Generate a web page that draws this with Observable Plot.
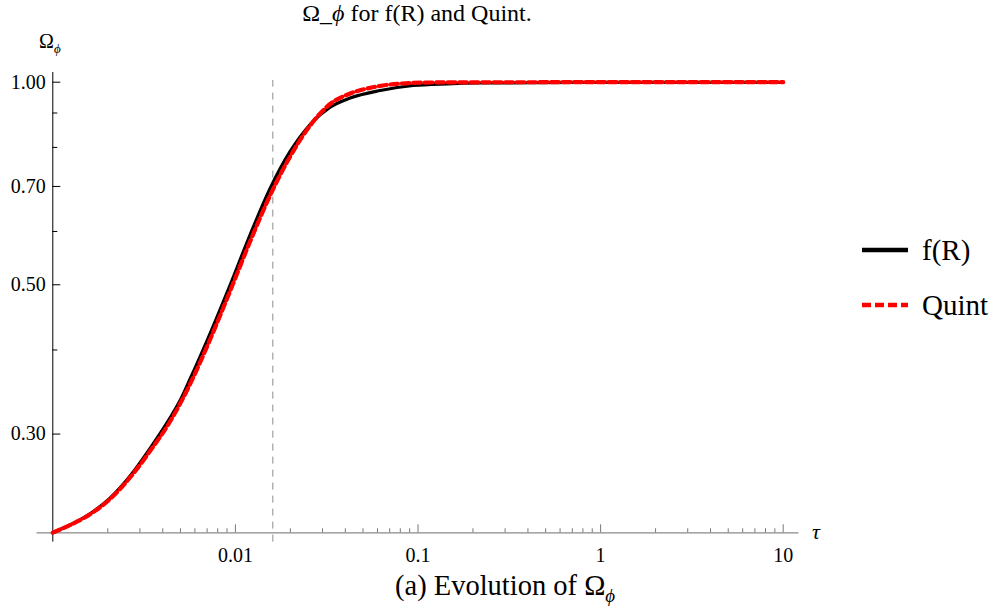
<!DOCTYPE html>
<html>
<head>
<meta charset="utf-8">
<script src="https://cdn.jsdelivr.net/npm/d3@7"></script>
<script src="https://cdn.jsdelivr.net/npm/@observablehq/plot@0.6"></script>
<style>
  html, body { margin: 0; padding: 0; background: #fff; }
  #wrap { position: relative; width: 1000px; height: 612px; font-family: "Liberation Serif", "Times New Roman", serif; color: #000; }
  #chart { position: absolute; left: 0; top: 0; }
  .abs { position: absolute; white-space: nowrap; line-height: 1; }
</style>
</head>
<body>
<div id="wrap">
  <div id="chart"></div>
  <div class="abs" id="title" style="left:0; width:834px; top:1px; text-align:center; font-size:24px;">Ω_<i>ϕ</i> for f(R) and Quint.</div>
  <div class="abs" id="ylab" style="left:39px; top:31px; font-size:20px;">Ω<sub style="font-size:13px; font-style:italic;">ϕ</sub></div>
  <div class="abs" id="xlab" style="left:812px; top:521px; font-size:22px; font-style:italic;">τ</div>
  <div class="abs" id="caption" style="left:395px; top:572px; font-size:28.5px;">(a) Evolution of Ω<sub style="font-size:19px; font-style:italic;">ϕ</sub></div>
  <div class="abs" id="legend" style="left:862px; top:230px; font-size:29px;"></div>
</div>
<script>
// ---- data ----
const seriesNames = ["f(R)", "Quint"];
const tauFR   = [0.001, 0.001242, 0.0016, 0.002058, 0.002649, 0.003409, 0.004387, 0.004977, 0.005646, 0.007266, 0.009354, 0.012036, 0.01549, 0.01994, 0.02566, 0.03303, 0.04251, 0.06208, 0.09412, 0.1445, 0.2192, 0.4673, 1, 10];
const omegaFR = [0.2141, 0.2198, 0.2284, 0.2409, 0.2598, 0.2856, 0.3171, 0.3365, 0.3622, 0.4232, 0.4995, 0.5933, 0.6951, 0.789, 0.8654, 0.918, 0.9474, 0.972, 0.9888, 0.9945, 0.9973, 0.9986, 0.9993, 0.9997];
const tauQ    = [0.001, 0.001242, 0.0016, 0.002058, 0.002649, 0.003409, 0.004387, 0.005646, 0.007266, 0.009354, 0.012036, 0.01549, 0.01994, 0.02566, 0.03303, 0.04251, 0.05681, 0.07691, 0.1166, 0.2192, 1, 10];
const omegaQ  = [0.2141, 0.2197, 0.2280, 0.2402, 0.2586, 0.2831, 0.3132, 0.3560, 0.4146, 0.4893, 0.5798, 0.6788, 0.7754, 0.8623, 0.9281, 0.9620, 0.9830, 0.9945, 0.9990, 0.9997, 1.0, 1.0];
const xMajorTicks = [0.01, 0.1, 1, 10];
const xMajorLabels = ["0.01", "0.1", "1", "10"];
const xMinorTicks = [0.002,0.003,0.004,0.005,0.006,0.007,0.008,0.009,0.02,0.03,0.04,0.05,0.06,0.07,0.08,0.09,0.2,0.3,0.4,0.5,0.6,0.7,0.8,0.9,2,3,4,5,6,7,8,9];
const yMajorTicks = [0.3, 0.5, 0.7, 1.0];
const yMajorLabels = ["0.30", "0.50", "0.70", "1.00"];
const yMinorTicks = [0.4, 0.6, 0.8, 0.9];
const xDomain = [0.001, 10];
const yDomain = [0.214, 1.0];
const markerTau = [0.01603];            // dashed vertical reference line
const xAxisExtent = [0.00082, 12.2];    // drawn x axis line extent
const yAxisExtent = [0.2073, 1.0338];   // drawn y axis line extent
const markerExtent = [0.2073, 1.006];

const rows = [
  ...tauFR.map((t, i) => ({tau: t, omega: omegaFR[i], series: seriesNames[0]})),
  ...tauQ.map((t, i) => ({tau: t, omega: omegaQ[i], series: seriesNames[1]}))
];
const fr = rows.filter(d => d.series === seriesNames[0]);
const qu = rows.filter(d => d.series === seriesNames[1]);

const chart = Plot.plot({
  width: 1000,
  height: 612,
  marginLeft: 52.3,
  marginRight: 217.3,
  marginTop: 81.7,
  marginBottom: 79.7,
  style: {fontFamily: "Liberation Serif, serif", fontSize: "20px", color: "#000", background: "transparent"},
  x: {type: "log", domain: xDomain},
  y: {type: "log", domain: yDomain},
  marks: [
    Plot.ruleX(markerTau, {y1: markerExtent[0], y2: markerExtent[1], stroke: "#8c8c8c", strokeWidth: 1, strokeDasharray: "7,6"}),
    Plot.ruleY([yDomain[0]], {x1: xAxisExtent[0], x2: xAxisExtent[1], stroke: "#8a8a8a", strokeWidth: 1.3}),
    Plot.ruleX([xDomain[0]], {y1: yAxisExtent[0], y2: yAxisExtent[1], stroke: "#000", strokeWidth: 1}),
    Plot.axisX(xMajorTicks, {tickSize: -8, tickPadding: 23, stroke: "#777", fill: "#000", tickFormat: d => xMajorLabels[xMajorTicks.indexOf(d)], label: null, fontSize: 20}),
    Plot.axisX(xMinorTicks, {tickSize: -4, tickFormat: () => "", stroke: "#777", label: null}),
    Plot.axisY(yMajorTicks, {tickSize: -8, tickPadding: 15, stroke: "#000", fill: "#000", tickFormat: d => yMajorLabels[yMajorTicks.indexOf(d)], label: null, fontSize: 20}),
    Plot.axisY(yMinorTicks, {tickSize: -5, tickFormat: () => "", stroke: "#000", label: null}),
    Plot.line(fr, {x: "tau", y: "omega", stroke: "#000", strokeWidth: 3.2, curve: "monotone-x"}),
    Plot.line(qu, {x: "tau", y: "omega", stroke: "#ff0000", strokeWidth: 4.2, strokeDasharray: "7.5,4", curve: "monotone-x"})
  ]
});
document.getElementById("chart").appendChild(chart);

// legend
const legend = document.getElementById("legend");
const legendStyles = [
  {stroke: "#000", width: 4.5, dash: null},
  {stroke: "#ff0000", width: 4.5, dash: "9,4"}
];
seriesNames.forEach((name, i) => {
  const row = document.createElement("div");
  row.style.cssText = "display:flex; align-items:center; height:40px; margin-bottom:15px;";
  const s = legendStyles[i];
  row.innerHTML = `<svg width="60" height="40"><line x1="0" x2="46" y1="20" y2="20" stroke="${s.stroke}" stroke-width="${s.width}" ${s.dash ? `stroke-dasharray="${s.dash}"` : ""}/></svg><span>${name}</span>`;
  legend.appendChild(row);
});
</script>
</body>
</html>
